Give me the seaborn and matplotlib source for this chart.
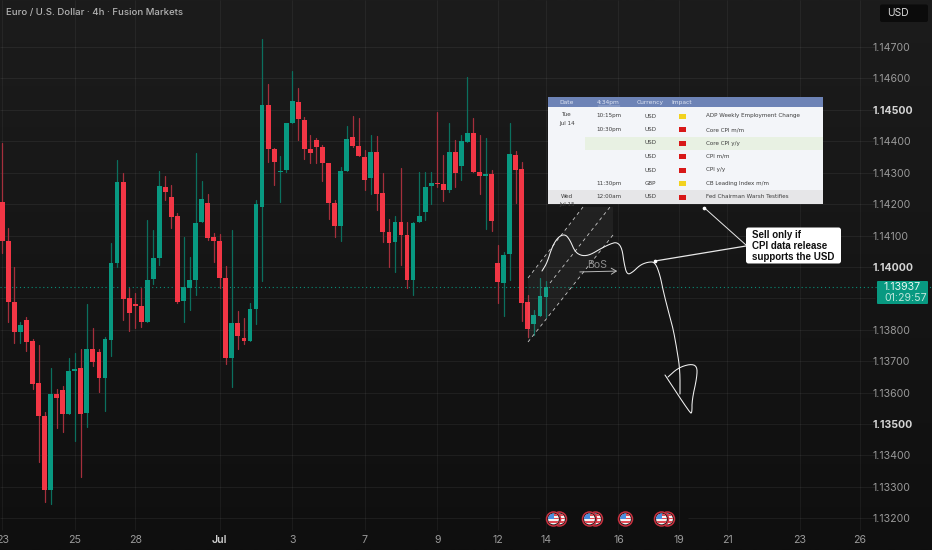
import numpy as np
import pandas as pd
import matplotlib
matplotlib.use('Agg')
import matplotlib.pyplot as plt
from matplotlib.patches import Rectangle, FancyBboxPatch, Circle, Polygon
import seaborn as sns

# candle values
opens = [1.14207, 1.14083, 1.13889, 1.13793, 1.13831, 1.13765, 1.13631, 1.13526, 1.13290, 1.13596,
         1.13609, 1.13533, 1.13669, 1.13679, 1.13536, 1.13739, 1.13730, 1.13647, 1.13768, 1.14013,
         1.14270, 1.13901, 1.13882, 1.13876, 1.13825, 1.13962, 1.14029, 1.14255, 1.14223, 1.14162,
         1.13892, 1.13933, 1.13959, 1.14143, 1.14204, 1.14096, 1.14083, 1.13965, 1.13711, 1.13822,
         1.13774, 1.13765, 1.13866, 1.14191, 1.14515, 1.14376, 1.14302, 1.14309, 1.14458, 1.14525,
         1.14468, 1.14376, 1.14404, 1.14382, 1.14331, 1.14204, 1.14131, 1.14305, 1.14414, 1.14385,
         1.14350, 1.14283, 1.14366, 1.14236, 1.14111, 1.14080, 1.14143, 1.14102, 1.13959, 1.14143,
         1.14175, 1.14258, 1.14267, 1.14264, 1.14245, 1.14366, 1.14321, 1.14398, 1.14427, 1.14302,
         1.14290, 1.14296, 1.14013, 1.13949, 1.14041, 1.14356, 1.14312, 1.13889, 1.13819, 1.13844,
         1.13904]
highs = [1.14395, 1.14124, 1.14000, 1.13825, 1.13841, 1.13771, 1.13752, 1.13539, 1.13679, 1.13612,
         1.13621, 1.13711, 1.13727, 1.13739, 1.13882, 1.13806, 1.13739, 1.13777, 1.14076, 1.14340,
         1.14299, 1.13933, 1.13917, 1.13933, 1.14150, 1.14118, 1.14305, 1.14290, 1.14261, 1.14172,
         1.14096, 1.14032, 1.14363, 1.14274, 1.14232, 1.14108, 1.14105, 1.14003, 1.14118, 1.13860,
         1.13838, 1.13885, 1.14213, 1.14726, 1.14582, 1.14380, 1.14353, 1.14458, 1.14624, 1.14570,
         1.14477, 1.14420, 1.14411, 1.14388, 1.14331, 1.14213, 1.14318, 1.14449, 1.14480, 1.14474,
         1.14372, 1.14420, 1.14417, 1.14299, 1.14153, 1.14162, 1.14315, 1.14143, 1.14143, 1.14302,
         1.14302, 1.14302, 1.14493, 1.14356, 1.14458, 1.14404, 1.14420, 1.14605, 1.14474, 1.14420,
         1.14411, 1.14309, 1.14070, 1.14048, 1.14458, 1.14369, 1.14334, 1.13911, 1.13863, 1.13965,
         1.13956]
lows = [1.14045, 1.13825, 1.13758, 1.13758, 1.13733, 1.13612, 1.13380, 1.13252, 1.13246, 1.13488,
        1.13475, 1.13533, 1.13446, 1.13332, 1.13491, 1.13685, 1.13602, 1.13542, 1.13717, 1.14000,
        1.13831, 1.13796, 1.13806, 1.13809, 1.13825, 1.13946, 1.14006, 1.14213, 1.14124, 1.13885,
        1.13825, 1.13863, 1.13911, 1.14143, 1.14086, 1.14016, 1.13933, 1.13692, 1.13618, 1.13739,
        1.13755, 1.13765, 1.13819, 1.13956, 1.14334, 1.14261, 1.14207, 1.14302, 1.14458, 1.14404,
        1.14344, 1.14331, 1.14331, 1.14274, 1.14153, 1.14096, 1.14083, 1.14305, 1.14382, 1.14353,
        1.14245, 1.14232, 1.14181, 1.14080, 1.14000, 1.13984, 1.14006, 1.13933, 1.13911, 1.14143,
        1.14150, 1.14201, 1.14255, 1.14210, 1.14239, 1.14255, 1.14277, 1.14398, 1.14302, 1.14232,
        1.14121, 1.14115, 1.13885, 1.13844, 1.13959, 1.14204, 1.13828, 1.13777, 1.13783, 1.13844,
        1.13841]
closes = [1.14083, 1.13889, 1.13793, 1.13815, 1.13761, 1.13628, 1.13526, 1.13290, 1.13596, 1.13583,
          1.13533, 1.13669, 1.13676, 1.13533, 1.13739, 1.13698, 1.13647, 1.13771, 1.14013, 1.14270,
          1.13898, 1.13854, 1.13876, 1.13825, 1.13959, 1.14029, 1.14258, 1.14239, 1.14159, 1.13889,
          1.13936, 1.13959, 1.14140, 1.14217, 1.14092, 1.14083, 1.13965, 1.13711, 1.13822, 1.13780,
          1.13765, 1.13866, 1.14201, 1.14515, 1.14376, 1.14334, 1.14305, 1.14458, 1.14528, 1.14471,
          1.14376, 1.14363, 1.14382, 1.14331, 1.14204, 1.14131, 1.14305, 1.14408, 1.14385, 1.14353,
          1.14277, 1.14366, 1.14232, 1.14111, 1.14076, 1.14143, 1.14102, 1.13959, 1.14140, 1.14162,
          1.14255, 1.14267, 1.14264, 1.14245, 1.14366, 1.14299, 1.14401, 1.14427, 1.14302, 1.14290,
          1.14296, 1.14146, 1.13952, 1.14038, 1.14360, 1.14309, 1.13885, 1.13803, 1.13847, 1.13908,
          1.13936]

price_ticks = [1.147, 1.146, 1.145, 1.144, 1.143, 1.142, 1.141, 1.140, 1.138, 1.137, 1.136, 1.135,
               1.134, 1.133, 1.132]
bold_ticks = [1.145, 1.140, 1.135]
date_labels = ['23', '25', '28', 'Jul', '3', '7', '9', '12', '14', '16', '19', '21', '23', '26']
date_index = [0, 12, 22, 36, 48, 60, 72, 82, 90, 102, 112, 120, 132, 142]
last_price = 1.13937

dates = ['Tue', 'Jul 14', 'Wed', 'Jul 15']
times = ['10:15pm', '10:30pm', '', '', '', '11:30pm', '12:00am']
currencies = ['USD', 'USD', 'USD', 'USD', 'USD', 'GBP', 'USD']
impacts = ['#f2d21f', '#d81818', '#d81818', '#d81818', '#d81818', '#f2d21f', '#d81818']
events = ['ADP Weekly Employment Change', 'Core CPI m/m', 'Core CPI y/y', 'CPI m/m', 'CPI y/y',
          'CB Leading Index m/m', 'Fed Chairman Warsh Testifies']

UP = '#089981'
DOWN = '#f23645'
FONT = 'Inter'

sns.set_theme(style='dark', rc={'font.family': FONT})

df = pd.DataFrame({'o': opens, 'h': highs, 'l': lows, 'c': closes})
df['i'] = df.index
df['up'] = df['c'] >= df['o']

fig = plt.figure(figsize=(9.32, 5.5), dpi=100, facecolor='#141414')
ax = fig.add_axes([0, 0, 1, 1])

# axes limits chosen so one candle is about 6 pixels wide
x_lo, x_hi = -0.38, 153.9
y_lo, y_hi = 1.13099, 1.148496

# dark vertical gradient behind everything
ax.imshow(np.linspace(0, 1, 256).reshape(-1, 1), extent=[x_lo, x_hi, y_lo, y_hi], aspect='auto',
          cmap=matplotlib.colors.LinearSegmentedColormap.from_list('bg', ['#1c1c1c', '#0f0f0f']),
          origin='upper', zorder=0)

# grid stops short of the price scale, the lowest line breaks around the event markers
grid_prices = [p for p in price_ticks if p != 1.132] + [1.139]
ax.hlines(grid_prices, x_lo, 144.5, color='#ffffff', alpha=0.06, lw=0.8, zorder=1)
ax.hlines([1.132, 1.132], [x_lo, 113.5], [89, 144.5], color='#ffffff', alpha=0.06, lw=0.8, zorder=1)
ax.vlines(date_index, 1.13163, y_hi, color='#ffffff', alpha=0.05, lw=0.8, zorder=1)

# wicks
wicks = df.melt(id_vars=['i', 'up'], value_vars=['h', 'l'], value_name='price')
sns.lineplot(data=wicks, x='i', y='price', hue='up', units='i', estimator=None, legend=False,
             palette={True: '#0b6f5e', False: '#a52f3c'}, lw=0.9, ax=ax, zorder=2)

# bodies
bottoms = df[['o', 'c']].min(axis=1)
heights = (df['c'] - df['o']).abs().clip(lower=0.00004)
ax.bar(df['i'], heights, bottom=bottoms, width=0.8, linewidth=0,
       color=[UP if u else DOWN for u in df['up']], zorder=3)

ax.axhline(last_price, color=UP, lw=0.8, ls=(0, (1, 2.5)), alpha=0.9, zorder=1.5)

ax.set_xlim(x_lo, x_hi)
ax.set_ylim(y_lo, y_hi)
ax.set_xlabel('')
ax.set_ylabel('')
ax.set_xticks(date_index)
ax.set_xticklabels(date_labels)
ax.set_yticks(price_ticks)
ax.set_yticklabels([f'{p:.5f}' for p in price_ticks])
ax.tick_params(axis='x', bottom=False, labelbottom=True, pad=-17, labelsize=7.6, colors='#9a9a9a')
ax.tick_params(axis='y', left=False, labelleft=False, right=False, labelright=True, pad=-49,
               labelsize=7.6, colors='#9a9a9a')
for lab, p in zip(ax.get_yticklabels(), price_ticks):
    if p in bold_ticks:
        lab.set_fontweight('bold')
        lab.set_color('#d4d4d4')
for lab in ax.get_xticklabels():
    if lab.get_text() == 'Jul':
        lab.set_fontweight('semibold')
        lab.set_color('#cfcfcf')
ax.grid(False)
for s in ax.spines.values():
    s.set_visible(False)

# overlay in pixel units for the drawings and labels
ov = fig.add_axes([0, 0, 1, 1], facecolor='none')
ov.set_xlim(0, 932)
ov.set_ylim(550, 0)
ov.axis('off')

ov.text(6.5, 12, 'Euro / U.S. Dollar · 4h · Fusion Markets', color='#b4b4b4', fontsize=6.9,
        fontweight='medium', va='center')

# USD box and price tag
ov.add_patch(FancyBboxPatch((880, 4.5), 48, 17.5, boxstyle='round,pad=0,rounding_size=2', fc='#0b0b0b', ec='none'))
ov.text(887, 13, 'USD', color='#dddddd', fontsize=7.4, va='center')
ov.add_patch(FancyBboxPatch((877, 281), 51, 23, boxstyle='round,pad=0,rounding_size=1', fc=UP, ec='none'))
ov.text(884, 287, f'{last_price:.5f}', color='#e8f5f1', fontsize=7.6, va='center')
ov.text(884, 298, '01:29:57', color='#bfe6dc', fontsize=7.6, va='center')

# shaded channel with dashed edges
ov.add_patch(Polygon([(528, 278), (583, 207), (613, 207), (613, 235), (528, 342)],
                     fc='#ffffff', alpha=0.05, ec='none', zorder=1))
for (x0, y0), (x1, y1) in [((528, 278), (583, 207)), ((550, 283), (610, 207)), ((528, 342), (613, 235))]:
    ov.plot([x0, x1], [y0, y1], color='#c8c8c8', lw=0.6, ls=(0, (4, 4)), zorder=2)


def smooth(points, rounds=3):
    pts = np.array(points, dtype=float)
    for _ in range(rounds):
        q = 0.75 * pts[:-1] + 0.25 * pts[1:]
        r = 0.25 * pts[:-1] + 0.75 * pts[1:]
        pts = np.vstack([pts[0], np.column_stack([q, r]).reshape(-1, 2), pts[-1]])
    return pts


# hand drawn path, written in reference pixels
path = smooth([(542, 271), (547, 263), (552, 247), (558, 237), (565, 234), (570, 240), (575, 252),
               (582, 256), (590, 255), (600, 249), (610, 244), (617, 242), (622, 248), (624, 263),
               (627, 275), (633, 272), (640, 265), (648, 262), (655, 262), (660, 275), (663, 290),
               (668, 310), (673, 328), (677, 350), (680, 370), (680, 394)])
ov.plot(path[:, 0], path[:, 1], color='#f2f2f2', lw=0.75, zorder=4)
head = smooth([(665, 375), (690, 413), (692, 413), (692, 400), (697, 377), (697, 366), (690, 364),
               (678, 368), (668, 377)], rounds=2)
ov.plot(head[:, 0], head[:, 1], color='#f2f2f2', lw=0.75, zorder=4)

ov.annotate('', xy=(620, 271), xytext=(577, 272), zorder=4,
            arrowprops=dict(arrowstyle='->,head_width=0.18,head_length=0.3', color='#b8b8b8', lw=0.7))
ov.text(597, 264.5, 'BoS', color='#8c8c8c', fontsize=7.6, ha='center', va='center')

# calendar screenshot
table_rect = Rectangle((548, 97), 275, 107, fc='#f3f5f9', ec='none', zorder=5)
ov.add_patch(table_rect)
ov.add_patch(Rectangle((548, 97), 275, 10, fc='#6d83b6', ec='none', zorder=5.1))
ov.add_patch(Rectangle((585, 136.7), 238, 13.4, fc='#e8f1e3', ec='none', zorder=5.1))
ov.add_patch(Rectangle((548, 190), 275, 14, fc='#e6e6e8', ec='none', zorder=5.1))
hdr = dict(color='#dfe5f3', fontsize=4.3, ha='center', va='center', zorder=6, family='DejaVu Sans')
for hx, name in [(567, 'Date'), (608, '4:34pm'), (650.5, 'Currency'), (682, 'Impact')]:
    ov.text(hx, 102.5, name, **hdr)
ov.plot([598, 620], [106, 106], color='#dfe5f3', lw=0.3, zorder=6)

row_y = [116, 129.5, 143, 156.5, 170, 183.5, 197]
cell = dict(color='#3c3c3c', fontsize=4.1, va='center', zorder=6, family='DejaVu Sans')
for y, t, cur, col, ev in zip(row_y, times, currencies, impacts, events):
    ov.text(609, y, t, ha='center', **cell)
    ov.text(650.5, y, cur, ha='center', **cell)
    ov.add_patch(Rectangle((678.5, y - 2.5), 7, 5, fc=col, ec='none', zorder=6))
    ov.text(706.5, y, ev, ha='left', **cell)
ov.text(567, 114.5, dates[0], ha='center', **cell)
ov.text(567, 123, dates[1], ha='center', **cell)
ov.text(567, 196.5, dates[2], ha='center', **cell)
clipped = ov.text(567, 204.5, dates[3], ha='center', **cell)
clipped.set_clip_path(table_rect)

# callout
ov.plot([704, 746], [207.5, 245], color='#e8e8e8', lw=0.7, zorder=5)
ov.plot([655, 746], [261, 246], color='#e8e8e8', lw=0.9, zorder=5)
ov.scatter([704, 655], [207.5, 261], s=7, color='white', zorder=6, linewidths=0)
ov.add_patch(FancyBboxPatch((746, 227.5), 95, 36, boxstyle='round,pad=0,rounding_size=2.5',
                            fc='white', ec='none', zorder=6))
ov.text(752.5, 246, 'Sell only if\nCPI data release\nsupports the USD', color='#111111', fontsize=7.0,
        fontweight='bold', va='center', ha='left', linespacing=1.08, zorder=7, family='Liberation Sans')


# US flag event markers
def flag(cx, cy, z):
    ov.add_patch(Circle((cx, cy), 7, fc='#161616', ec='#c9303f', lw=1.1, zorder=z))
    disc = Circle((cx, cy), 5.4, fc='#f4f4f4', ec='none', zorder=z + 0.1)
    ov.add_patch(disc)
    for k in range(3):
        s = Rectangle((cx - 6, cy - 4.6 + k * 3.4), 12, 1.4, fc='#e04a55', ec='none', zorder=z + 0.2)
        ov.add_patch(s)
        s.set_clip_path(disc)
    c = Rectangle((cx - 6, cy - 6), 6.5, 6, fc='#4a8fe0', ec='none', zorder=z + 0.3)
    ov.add_patch(c)
    c.set_clip_path(disc)


for n, (cx, cy) in enumerate([(559.5, 519), (553.5, 519), (595.5, 519), (589.5, 519), (625.5, 519),
                              (667.5, 519), (661.5, 519)]):
    flag(cx, cy, 8 + n)

fig.savefig('out.png', dpi=100, facecolor=fig.get_facecolor())
